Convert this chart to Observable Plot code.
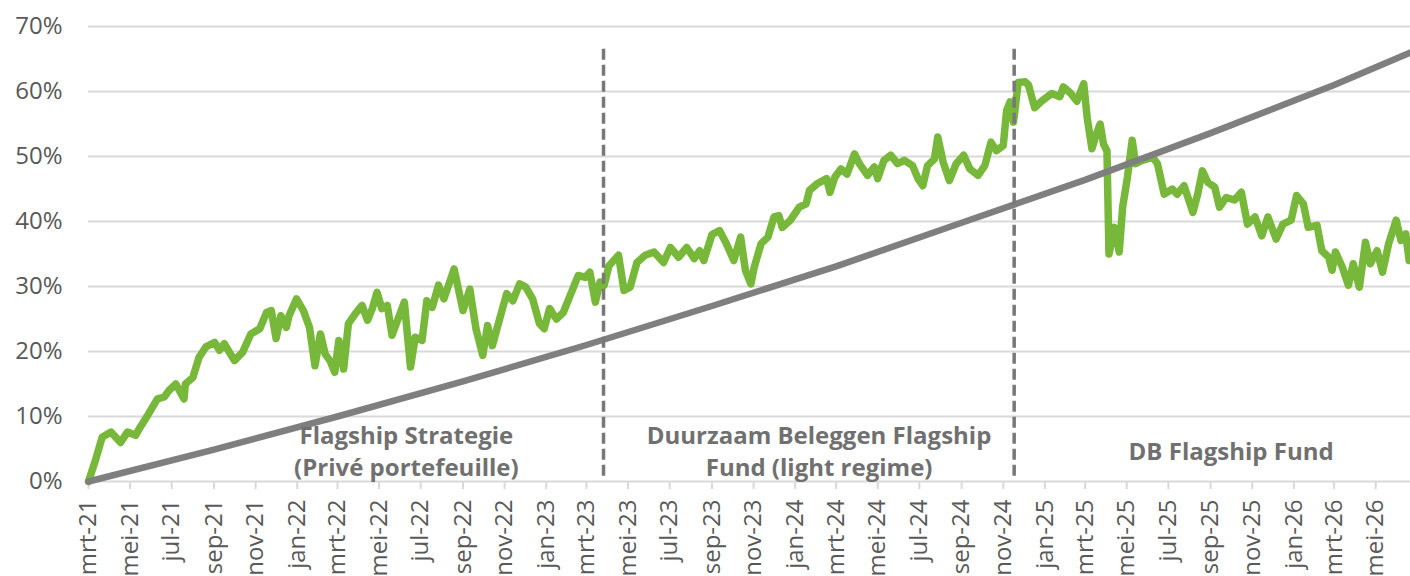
<!DOCTYPE html>
<html><head><meta charset="utf-8">
<script src="https://cdn.jsdelivr.net/npm/d3@7"></script>
<script src="https://cdn.jsdelivr.net/npm/@observablehq/plot@0.6"></script>
<style>
html,body{margin:0;padding:0;background:#fff;overflow:hidden}
#chart svg{display:block}
</style></head><body><div id="chart"></div>
<script>
const monthNames = ["jan","feb","mrt","apr","mei","jun","jul","aug","sep","okt","nov","dec"];
const yTicks = [0,10,20,30,40,50,60,70];
const axisStart = "2021-03-01";
const axisEnd = "2026-06-21";

const fundDates = [
"2021-03-01","2021-03-11","2021-03-21","2021-04-03","2021-04-17","2021-04-27","2021-05-09","2021-05-16","2021-05-28","2021-06-10","2021-06-20","2021-06-27","2021-07-07","2021-07-19","2021-07-21","2021-08-01","2021-08-10","2021-08-20","2021-09-02","2021-09-09","2021-09-16","2021-10-01","2021-10-13","2021-10-25","2021-11-07","2021-11-17","2021-11-24","2021-12-01","2021-12-08","2021-12-16","2021-12-20","2021-12-31",
"2022-01-10","2022-01-19","2022-01-27","2022-02-04","2022-02-11","2022-02-18","2022-02-25","2022-03-03","2022-03-10","2022-03-17","2022-03-27","2022-04-06","2022-04-14","2022-04-21","2022-04-28","2022-05-05","2022-05-13","2022-05-20","2022-05-27","2022-06-07","2022-06-16","2022-06-23","2022-07-03","2022-07-10","2022-07-18","2022-07-27","2022-08-04","2022-08-19","2022-09-01","2022-09-11","2022-09-20","2022-09-30","2022-10-07","2022-10-14","2022-10-26","2022-11-04","2022-11-13","2022-11-23","2022-12-02","2022-12-12","2022-12-22","2022-12-29",
"2023-01-06","2023-01-16","2023-01-26","2023-02-05","2023-02-17","2023-02-27","2023-03-06","2023-03-14","2023-03-21","2023-03-27","2023-04-03","2023-04-17","2023-04-25","2023-05-04","2023-05-14","2023-05-26","2023-06-08","2023-06-22","2023-07-02","2023-07-14","2023-07-26","2023-08-06","2023-08-14","2023-08-20","2023-09-01","2023-09-12","2023-09-22","2023-10-03","2023-10-13","2023-10-20","2023-10-28","2023-11-02","2023-11-12","2023-11-22","2023-12-01","2023-12-08","2023-12-13","2023-12-25",
"2024-01-07","2024-01-17","2024-01-22","2024-02-02","2024-02-16","2024-02-21","2024-02-28","2024-03-08","2024-03-17","2024-03-28","2024-04-04","2024-04-16","2024-04-26","2024-05-01","2024-05-10","2024-05-20","2024-05-30","2024-06-09","2024-06-21","2024-06-29","2024-07-06","2024-07-13","2024-07-23","2024-07-28","2024-08-05","2024-08-14","2024-08-24","2024-09-04","2024-09-13","2024-09-25","2024-10-05","2024-10-14","2024-10-22","2024-11-01","2024-11-06","2024-11-11","2024-11-16","2024-11-23","2024-12-03","2024-12-08","2024-12-17","2024-12-27",
"2025-01-11","2025-01-23","2025-01-28","2025-02-08","2025-02-17","2025-02-27","2025-03-04","2025-03-11","2025-03-16","2025-03-23","2025-03-28","2025-04-02","2025-04-05","2025-04-13","2025-04-20","2025-04-25","2025-05-02","2025-05-09","2025-05-14","2025-05-24","2025-06-08","2025-06-15","2025-06-25","2025-07-07","2025-07-14","2025-07-24","2025-08-06","2025-08-13","2025-08-20","2025-08-28","2025-09-07","2025-09-14","2025-09-24","2025-10-06","2025-10-16","2025-10-25","2025-11-05","2025-11-15","2025-11-24","2025-12-06","2025-12-16","2025-12-28",
"2026-01-05","2026-01-15","2026-01-22","2026-02-04","2026-02-11","2026-02-21","2026-02-26","2026-03-03","2026-03-13","2026-03-22","2026-03-29","2026-04-07","2026-04-16","2026-04-23","2026-05-03","2026-05-11","2026-05-20","2026-05-31","2026-06-07","2026-06-14","2026-06-19"
];
const fundValues = [
0,3.2,6.8,7.6,6.0,7.6,7.1,8.4,10.4,12.7,13.0,14.0,15.0,12.7,15.0,16.0,19.1,20.7,21.4,20.2,21.2,18.6,19.9,22.7,23.5,26.0,26.3,22.0,25.5,23.7,25.5,28.1,
26.3,23.7,17.8,22.7,19.6,18.6,16.8,21.7,17.3,24.3,25.8,27.1,24.8,26.6,29.1,26.6,27.1,22.5,24.5,27.6,17.6,22.2,21.7,27.8,26.8,30.2,28.1,32.7,26.3,29.6,23.5,19.4,24.0,20.9,25.5,28.9,27.8,30.4,29.9,28.1,24.3,23.5,
26.6,25.0,26.0,28.6,31.7,31.4,32.2,27.6,30.7,30.2,33.2,34.8,29.4,29.9,33.7,34.8,35.3,33.7,36.0,34.5,36.0,34.3,35.5,34.0,38.0,38.6,36.6,34.0,37.6,32.5,30.4,33.0,36.6,37.6,40.7,40.9,39.1,40.2,
42.2,42.7,44.8,45.8,46.6,44.5,46.8,48.1,47.3,50.4,48.9,47.1,48.4,46.6,49.4,50.2,48.9,49.4,48.6,46.6,45.5,48.6,49.6,53.0,49.1,46.3,48.9,50.2,48.1,47.1,48.6,52.2,50.9,51.7,57.1,58.4,55.3,61.4,61.5,61.0,57.5,58.5,
59.7,59.2,60.7,59.7,58.5,61.2,56.0,51.2,53.0,55.0,51.9,50.9,35.0,39.1,35.3,42.2,46.8,52.5,48.9,49.4,49.9,48.9,44.2,45.0,44.2,45.5,41.4,44.2,47.8,46.0,45.3,42.2,43.7,43.3,44.5,39.6,40.7,37.8,40.7,37.3,39.6,40.2,
44.0,42.7,39.1,39.4,35.5,34.5,32.5,35.3,33.0,30.2,33.5,29.9,36.8,33.5,35.5,32.2,36.6,40.2,37.1,38.1,34.0
];

const benchDates = ["2021-03-01","2021-09-01","2022-03-01","2022-09-01","2023-03-01","2023-09-01","2024-03-01","2024-09-01","2025-03-01","2025-09-01","2026-03-01","2026-06-21"];
const benchValues = [0,4.9,10.0,15.4,21.0,27.0,33.1,39.8,46.4,53.6,61.0,66.0];

const regimeChanges = ["2023-03-26","2024-11-17"];
const regimeTop = 66.8;

const annotationLabels = ["Flagship Strategie\n(Privé portefeuille)","Duurzaam Beleggen Flagship\nFund (light regime)","DB Flagship Fund"];
const annotationDates = ["2022-06-10","2024-02-05","2025-10-01"];
const annotationValues = [4.9,4.9,4.9];

const parse = s => new Date(s);
const fund = fundDates.map((d,i)=>({date:parse(d), value:fundValues[i]}));
const bench = benchDates.map((d,i)=>({date:parse(d), value:benchValues[i]}));
const notes = annotationLabels.map((t,i)=>({label:t, date:parse(annotationDates[i]), value:annotationValues[i]}));
const xTicks = d3.utcMonth.every(2).range(parse(axisStart), parse(axisEnd));

const chart = Plot.plot({
  width:1410, height:576,
  marginLeft:88, marginRight:0, marginTop:26, marginBottom:95,
  style:{fontFamily:"'Open Sans', sans-serif", background:"#fff"},
  x:{type:"utc", domain:[parse(axisStart), parse(axisEnd)]},
  y:{domain:[0,70]},
  marks:[
    Plot.gridY(yTicks, {stroke:"#d9d9d9", strokeOpacity:1, strokeWidth:2}),
    Plot.axisY(yTicks, {tickSize:0, tickPadding:26, tickFormat:d=>d+"%", fontSize:24, color:"#595959", label:null}),
    Plot.axisX(xTicks, {tickRotate:-90, tickSize:8, tickPadding:10, stroke:"#d9d9d9", strokeWidth:2, color:"#595959", fontSize:24, label:null,
      tickFormat:d=>monthNames[d.getUTCMonth()]+"-"+String(d.getUTCFullYear()).slice(2)}),
    Plot.line(fund, {x:"date", y:"value", stroke:"#77b83a", strokeWidth:7.5}),
    Plot.line(bench, {x:"date", y:"value", stroke:"#7f7f7f", strokeWidth:6.5}),
    Plot.ruleX(regimeChanges.map(parse), {y1:0.8, y2:regimeTop, stroke:"#787878", strokeWidth:3.5, strokeDasharray:"11,5"}),
    Plot.text(notes, {x:"date", y:"value", text:"label", fontSize:24, fontWeight:"bold", fill:"#707070", lineHeight:1.35, lineAnchor:"middle"})
  ]
});
document.getElementById("chart").appendChild(chart);
</script></body></html>
